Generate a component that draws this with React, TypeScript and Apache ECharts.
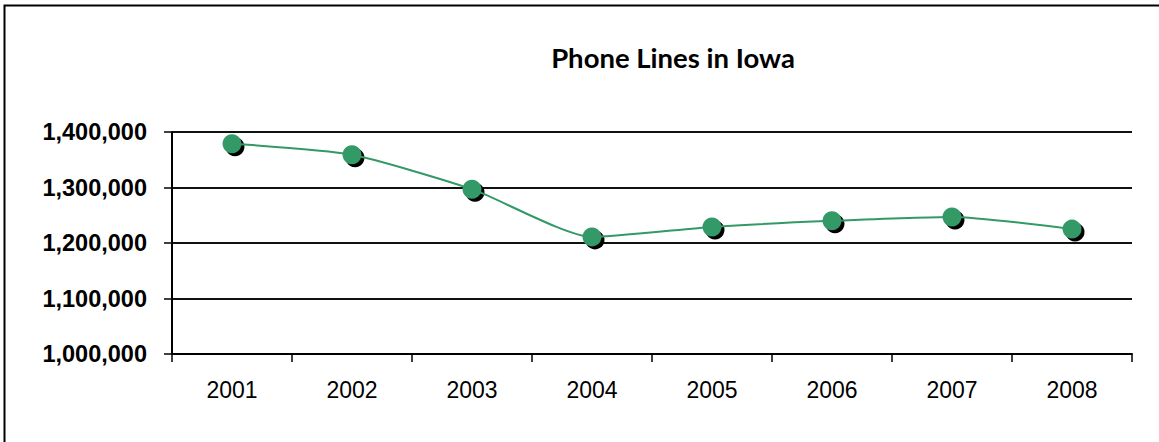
import React, { useEffect, useRef } from "react";
import * as echarts from "echarts";

const years = ["2001", "2002", "2003", "2004", "2005", "2006", "2007", "2008"];
const phoneLines = [1379000, 1359000, 1297000, 1211000, 1229000, 1240000, 1247000, 1225000];
const titleText = "Phone Lines in Iowa";
const yMin = 1000000;
const yMax = 1400000;
const yStep = 100000;

export default function App() {
  const ref = useRef<HTMLDivElement>(null);

  useEffect(() => {
    document.body.style.margin = "0";
    if (!ref.current) return;
    const chart = echarts.init(ref.current, null, { renderer: "svg" });
    chart.setOption({
      animation: false,
      backgroundColor: "#ffffff",
      graphic: [
        {
          type: "rect",
          shape: { x: 4.5, y: 5.5, width: 1170, height: 460 },
          style: { fill: "none", stroke: "#000", lineWidth: 2 },
          z: 100,
        },
        {
          type: "text",
          x: 673,
          y: 57,
          style: {
            text: titleText,
            fill: "#000",
            font: "bold 27.5px Lato",
            align: "center",
            verticalAlign: "middle",
          },
        },
      ],
      grid: { left: 172, right: 27, top: 132, bottom: 88, containLabel: false },
      xAxis: {
        type: "category",
        data: years,
        boundaryGap: true,
        axisLine: { show: true, lineStyle: { color: "#000", width: 2 } },
        axisTick: { show: true, length: 8, lineStyle: { color: "#000", width: 1.5 } },
        axisLabel: {
          margin: 24,
          color: "#000",
          fontFamily: "Liberation Sans",
          fontSize: 23,
        },
        splitLine: { show: false },
      },
      yAxis: {
        type: "value",
        min: yMin,
        max: yMax,
        interval: yStep,
        axisLine: { show: true, lineStyle: { color: "#000", width: 2 } },
        axisTick: { show: true, length: 8, lineStyle: { color: "#000", width: 1.5 } },
        axisLabel: {
          margin: 25,
          color: "#000",
          fontFamily: "Liberation Sans",
          fontWeight: "bold",
          fontSize: 23.5,
          formatter: (v: number) => v.toLocaleString("en-US"),
        },
        splitLine: { show: true, lineStyle: { color: "#111", width: 2 } },
      },
      series: [
        {
          type: "line",
          data: phoneLines,
          symbol: "circle",
          symbolSize: 19,
          symbolOffset: [3, 3],
          showSymbol: true,
          lineStyle: { width: 0, opacity: 0 },
          itemStyle: { color: "#000", borderWidth: 0 },
          z: 2,
          silent: true,
        },
        {
          type: "line",
          data: phoneLines,
          smooth: 0.2,
          symbol: "circle",
          symbolSize: 19,
          showSymbol: true,
          lineStyle: { color: "#339966", width: 2 },
          itemStyle: { color: "#339966", borderWidth: 0 },
          z: 3,
        },
      ],
    });
    return () => chart.dispose();
  }, []);

  return <div ref={ref} style={{ width: 1159, height: 442 }} />;
}
